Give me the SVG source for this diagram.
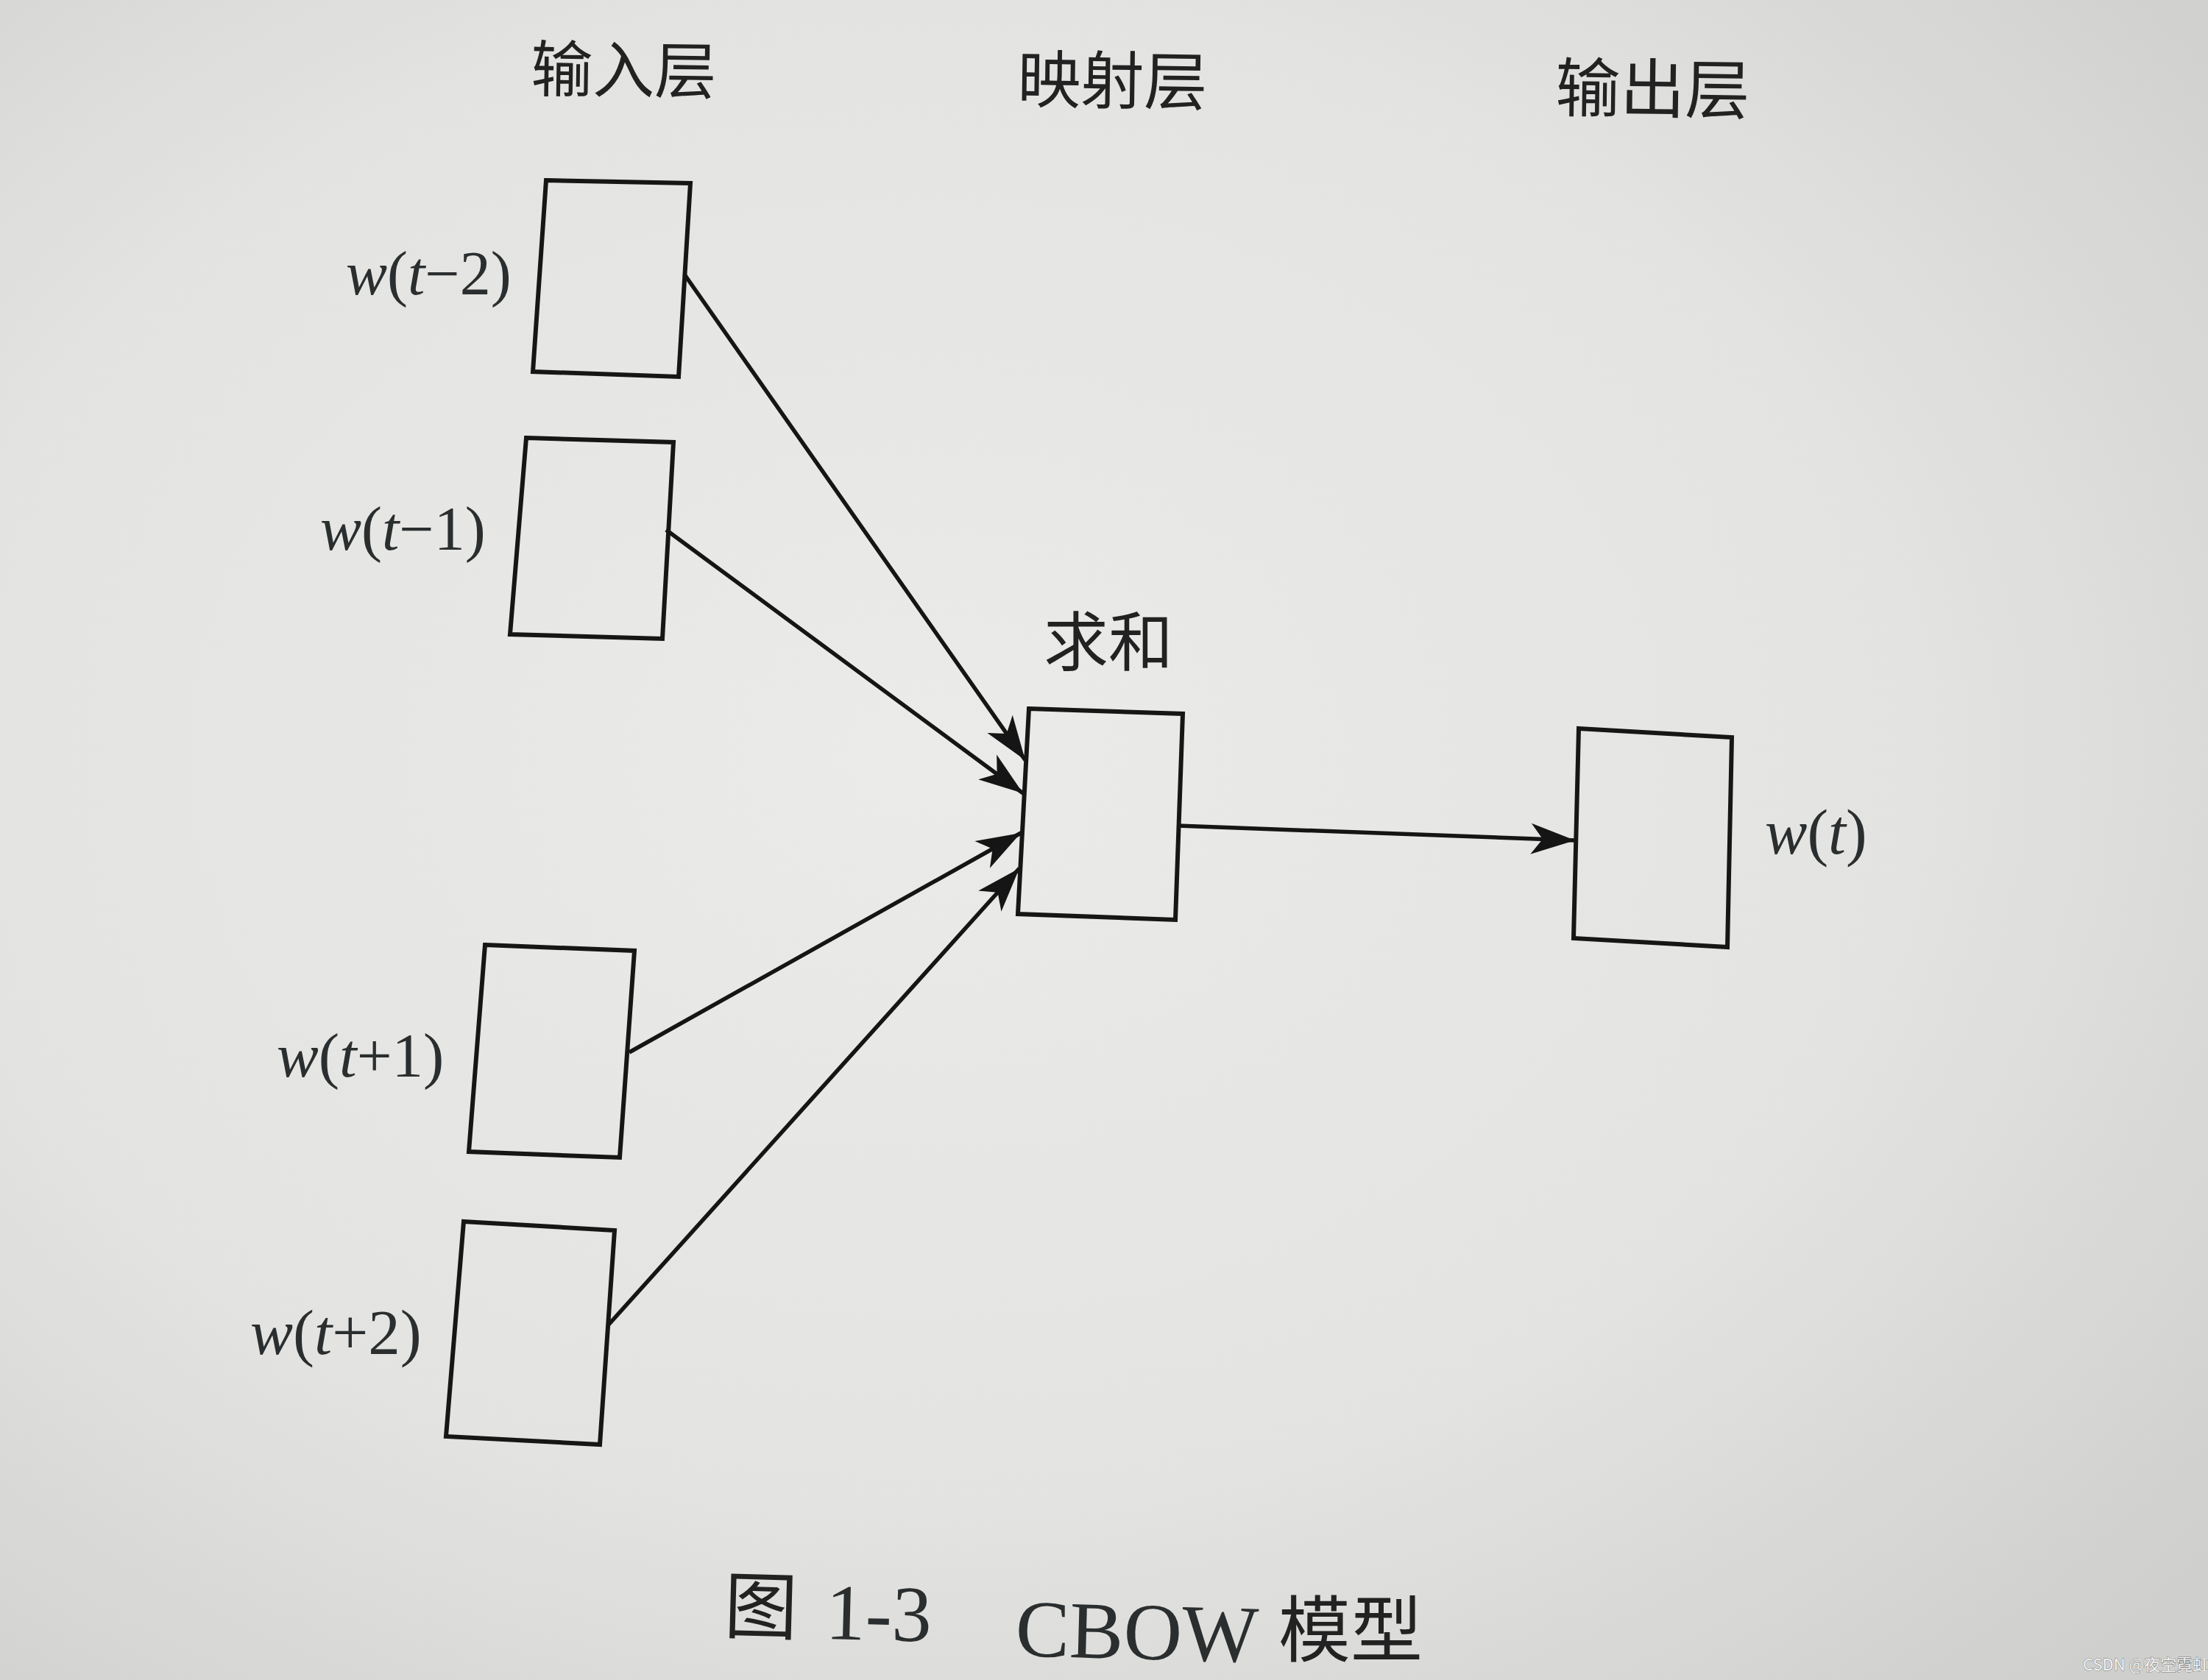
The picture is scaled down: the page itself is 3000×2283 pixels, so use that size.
<svg xmlns="http://www.w3.org/2000/svg" width="3000" height="2283" viewBox="0 0 3000 2283">
<defs>
<radialGradient id="paper" cx="0.42" cy="0.45" r="0.75">
<stop offset="0" stop-color="#ebebe9"/>
<stop offset="0.6" stop-color="#e3e3e1"/>
<stop offset="1" stop-color="#cfcfcd"/>
</radialGradient>
<marker id="arrow" viewBox="-62 -24 64 48" refX="0" refY="0" markerWidth="64" markerHeight="48" markerUnits="userSpaceOnUse" orient="auto">
<path d="M0,0 L-60,-21 L-44,0 L-60,21 Z" fill="#151515"/>
</marker>
</defs>
<style>
.box{fill:none;stroke:#161616;stroke-width:6;stroke-linejoin:miter}
.conn{fill:none;stroke:#151515;stroke-width:5.5;marker-end:url(#arrow)}
.cjk{font-family:"Noto Sans CJK SC","Noto Sans",sans-serif;fill:#222}
.lbl{font-family:"Liberation Serif","DejaVu Serif",serif;fill:#2a2e2e}
.it{font-style:italic}
.wm{font-family:"Noto Sans CJK SC","Noto Sans",sans-serif;font-size:22px;fill:#f4f4f4;stroke:#7a7a7a;stroke-width:1;paint-order:stroke}
</style>
<rect x="0" y="0" width="3000" height="2283" fill="url(#paper)"/>

<g id="titles">
<text class="cjk" x="721" y="124" font-size="84" transform="rotate(0.8 721 124)">输入层</text>
<text class="cjk" x="1382" y="139" font-size="86" transform="rotate(0.8 1382 139)">映射层</text>
<text class="cjk" x="2113" y="151" font-size="88" transform="rotate(0.8 2113 151)">输出层</text>
</g>

<g id="connectors">
<line class="conn" x1="930" y1="373" x2="1393" y2="1033"/>
<line class="conn" x1="905" y1="720" x2="1390" y2="1078"/>
<line class="conn" x1="855" y1="1430" x2="1387" y2="1132"/>
<line class="conn" x1="827" y1="1800" x2="1385" y2="1180"/>
<line class="conn" x1="1600" y1="1122" x2="2140" y2="1142"/>
</g>

<g id="node-w-t-2">
<polygon class="box" points="742,245 938,249 922,512 724,505"/>
<text class="lbl" x="470" y="400" font-size="84"><tspan class="it">w</tspan>(<tspan class="it">t</tspan>−2)</text>
</g>
<g id="node-w-t-1">
<polygon class="box" points="715,595 915,601 900,868 693,862"/>
<text class="lbl" x="435" y="747" font-size="84"><tspan class="it">w</tspan>(<tspan class="it">t</tspan>−1)</text>
</g>
<g id="node-w-t+1">
<polygon class="box" points="659,1284 862,1292 842,1573 637,1565"/>
<text class="lbl" x="376" y="1463" font-size="85"><tspan class="it">w</tspan>(<tspan class="it">t</tspan>+1)</text>
</g>
<g id="node-w-t+2">
<polygon class="box" points="630,1660 835,1672 815,1963 606,1952"/>
<text class="lbl" x="340" y="1840" font-size="87"><tspan class="it">w</tspan>(<tspan class="it">t</tspan>+2)</text>
</g>
<g id="node-sum">
<polygon class="box" points="1398,963 1607,970 1597,1250 1383,1242"/>
<text class="cjk" x="1418" y="904" font-size="88">求和</text>
</g>
<g id="node-w-t">
<polygon class="box" points="2145,990 2353,1002 2347,1287 2138,1275"/>
<text class="lbl" x="2398" y="1160" font-size="86"><tspan class="it">w</tspan>(<tspan class="it">t</tspan>)</text>
</g>

<g id="caption">
<text class="cjk" x="983" y="2218" font-size="100" transform="rotate(1.5 983 2218)">图</text>
<text class="lbl" x="1121" y="2227" font-size="108" fill="#1e1e24" transform="rotate(1.5 1121 2227)">1-3</text>
<text class="lbl" x="1379" y="2250" font-size="110" fill="#1e1e24" transform="rotate(1.5 1379 2250)">CBOW</text>
<text class="cjk" x="1737" y="2250" font-size="98">模型</text>
</g>

<text class="wm" x="2830" y="2270">CSDN @夜空霓虹</text>
</svg>
